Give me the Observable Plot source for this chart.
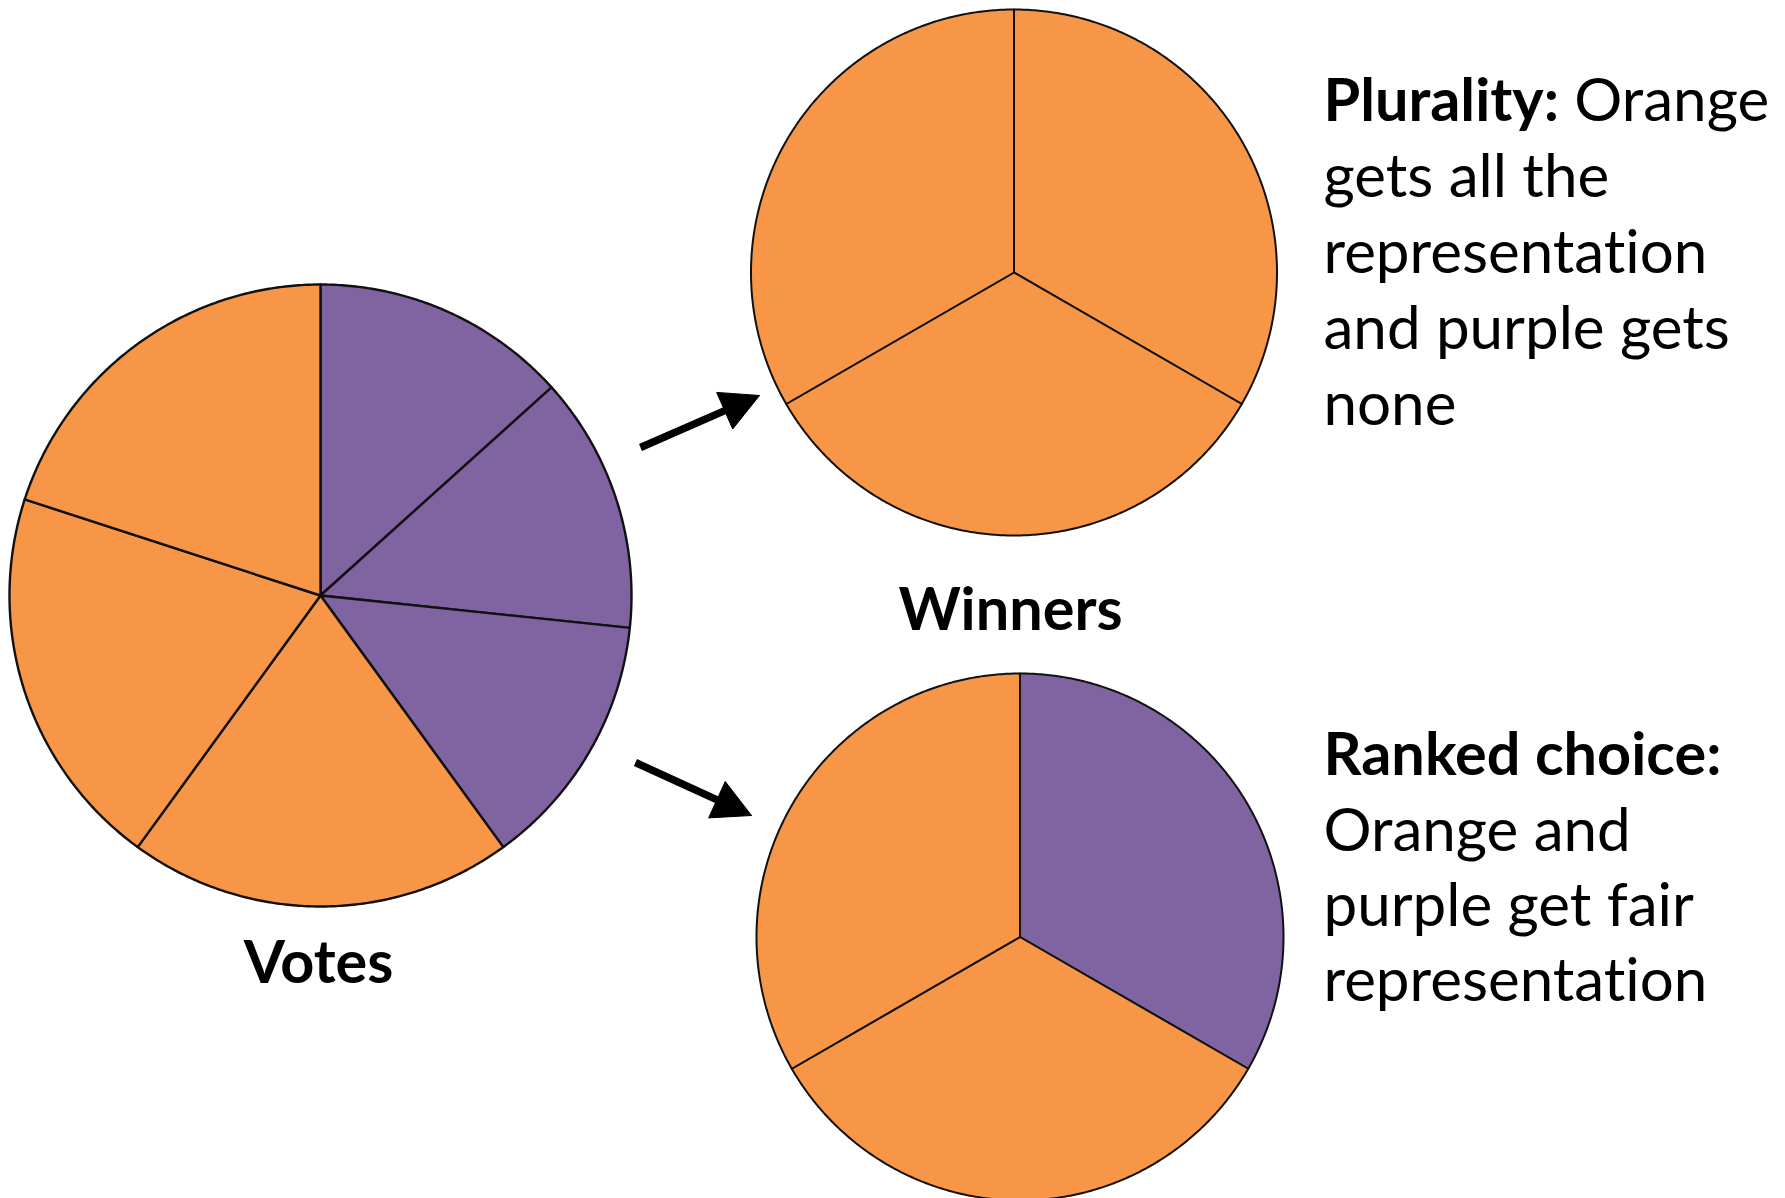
<!DOCTYPE html>
<html><head><meta charset="utf-8">
<script src="https://cdn.jsdelivr.net/npm/d3@7"></script>
<script src="https://cdn.jsdelivr.net/npm/@observablehq/plot@0.6"></script>
<style>html,body{margin:0;padding:0;background:#fff;overflow:hidden}#chart svg{display:block}svg text{font-variant-ligatures:none;font-feature-settings:"liga" 0}</style>
</head><body><div id="chart"></div>
<script>
// ---- data ----
const partyNames = ["Orange", "Purple"];
const partyColors = ["#F79646", "#8064A2"];
const voteParty = ["Purple", "Purple", "Purple", "Orange", "Orange", "Orange"];
const voteShare = [13.33, 13.33, 13.34, 20, 20, 20];
const pluralitySeats = ["Orange", "Orange", "Orange"];
const rankedSeats = ["Purple", "Orange", "Orange"];
const seatShare = [1, 1, 1];
const pieLabels = ["Votes", "Winners"];
const pluralityTitle = "Plurality:";
const pluralityLines = ["Orange", "gets all the", "representation", "and purple gets", "none"];
const rankedTitle = "Ranked choice:";
const rankedLines = ["Orange and", "purple get fair", "representation"];

// ---- layout ----
const W = 1785, H = 1198;
const FONT = "Lato";
const geomVotes = {cx: 320, cy: 595, r: 311, sw: 2.4};
const geomPlural = {cx: 1013.5, cy: 272, r: 263, sw: 2};
const geomRanked = {cx: 1019.5, cy: 936.5, r: 263.5, sw: 2};
const arrowDefs = [
  {x1: 640, y1: 447, x2: 759, y2: 395},
  {x1: 635, y1: 762, x2: 751, y2: 815}
];
const headLen = 38, headWid = 40, shaftW = 7.5;

// font fitting (Calibri-like widths)
const ctx = document.createElement("canvas").getContext("2d");
function tw(t, weight, size) { ctx.font = `${weight} ${size}px ${FONT}`; return ctx.measureText(t).width; }
const fsReg = 63 * 385 / tw("representation", "normal", 63);
const fsBold = 63 * 398 / tw("Ranked choice:", "bold", 63);

const key = p => p + " party"; // avoid CSS colour-name literal interpretation
function wedges(parties, values, g, k) {
  const arcs = d3.pie().sort(null).value(d => d)(values);
  const pts = [];
  arcs.forEach((a, i) => {
    const id = k + i, party = key(parties[i]);
    pts.push({id, party, x: g.cx, y: g.cy});
    const n = Math.max(2, Math.ceil((a.endAngle - a.startAngle) / (Math.PI / 360)));
    for (let j = 0; j <= n; j++) {
      const t = a.startAngle + (a.endAngle - a.startAngle) * j / n;
      pts.push({id, party, x: g.cx + g.r * Math.sin(t), y: g.cy - g.r * Math.cos(t)});
    }
    pts.push({id, party, x: g.cx, y: g.cy});
  });
  return pts;
}

const votePts = wedges(voteParty, voteShare, geomVotes, "v");
const pluralPts = wedges(pluralitySeats, seatShare, geomPlural, "p");
const rankedPts = wedges(rankedSeats, seatShare, geomRanked, "r");

const heads = [];
const shafts = [];
arrowDefs.forEach((a, i) => {
  const dx = a.x2 - a.x1, dy = a.y2 - a.y1, L = Math.hypot(dx, dy);
  const ux = dx / L, uy = dy / L, nx = -uy, ny = ux;
  const bx = a.x2 - ux * headLen, by = a.y2 - uy * headLen;
  shafts.push({x1: a.x1, y1: a.y1, x2: bx + ux * 2, y2: by + uy * 2});
  const id = "a" + i;
  heads.push({id, x: a.x2, y: a.y2});
  heads.push({id, x: bx + nx * headWid / 2, y: by + ny * headWid / 2});
  heads.push({id, x: bx - nx * headWid / 2, y: by - ny * headWid / 2});
  heads.push({id, x: a.x2, y: a.y2});
});

const mid = fs => 0.32 * fs; // Plot's middle line anchor offset
const pluralBase = [120, 196, 272, 348, 424];
const rankedBase = [774, 850, 925, 1000];
const titleW = tw(pluralityTitle, "bold", fsBold) + tw(" ", "normal", fsReg);

const labelData = [
  {text: pieLabels[0], x: 318, y: 982 - mid(fsBold)},
  {text: pieLabels[1], x: 1010, y: 629 - mid(fsBold)}
];
const boldLines = [
  {text: pluralityTitle, x: 1323, y: pluralBase[0] - mid(fsBold)},
  {text: rankedTitle, x: 1323, y: rankedBase[0] - mid(fsBold)}
];
const regLines = pluralityLines.map((t, i) => ({text: t, x: i === 0 ? 1323 + titleW : 1323, y: pluralBase[i] - mid(fsReg)}))
  .concat(rankedLines.map((t, i) => ({text: t, x: 1323, y: rankedBase[i + 1] - mid(fsReg)})));

const pieMark = (pts, g) => Plot.line(pts, {x: "x", y: "y", z: "id", fill: "party", stroke: "#111", strokeWidth: g.sw, strokeLinejoin: "round"});

const chart = Plot.plot({
  width: W, height: H,
  margin: 0,
  x: {domain: [0, W], range: [0, W], axis: null},
  y: {domain: [0, H], range: [0, H], axis: null},
  color: {type: "ordinal", domain: partyNames.map(key), range: partyColors},
  style: {background: "#fff", overflow: "visible"},
  marks: [
    pieMark(votePts, geomVotes),
    pieMark(pluralPts, geomPlural),
    pieMark(rankedPts, geomRanked),
    Plot.link(shafts, {x1: "x1", y1: "y1", x2: "x2", y2: "y2", stroke: "#000", strokeWidth: shaftW}),
    Plot.line(heads, {x: "x", y: "y", z: "id", fill: "#000", stroke: "#000", strokeWidth: 1}),
    Plot.text(labelData, {x: "x", y: "y", text: "text", fontSize: fsBold, fontWeight: "bold", fontFamily: FONT, fill: "#000", textAnchor: "middle", lineAnchor: "middle"}),
    Plot.text(boldLines, {x: "x", y: "y", text: "text", fontSize: fsBold, fontWeight: "bold", fontFamily: FONT, fill: "#000", textAnchor: "start", lineAnchor: "middle"}),
    Plot.text(regLines, {x: "x", y: "y", text: "text", fontSize: fsReg, fontWeight: "normal", fontFamily: FONT, fill: "#000", textAnchor: "start", lineAnchor: "middle"})
  ]
});
document.getElementById("chart").appendChild(chart);
</script>
</body></html>
